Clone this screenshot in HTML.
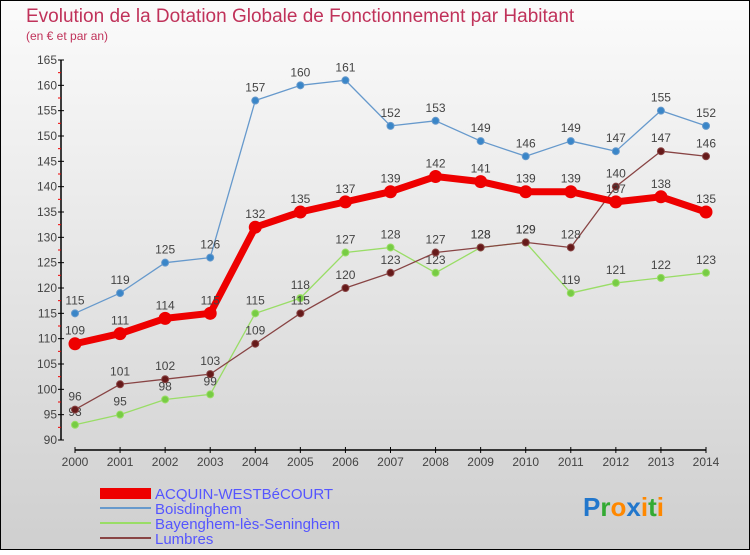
<!DOCTYPE html>
<html><head><meta charset="utf-8"><style>
body{margin:0}
svg text{font-family:"Liberation Sans",sans-serif}
</style></head><body>
<svg id="c" width="750" height="550" xmlns="http://www.w3.org/2000/svg">
<defs><linearGradient id="bg" x1="0" y1="0" x2="0" y2="1"><stop offset="0" stop-color="#fbfbfb"/><stop offset="1" stop-color="#cfcfcf"/></linearGradient></defs>
<rect x="0.5" y="0.5" width="749" height="549" fill="url(#bg)" stroke="#000"/>
<text x="26" y="22" font-size="19" fill="#c0325a">Evolution de la Dotation Globale de Fonctionnement par Habitant</text>
<text x="26" y="40" font-size="12" fill="#c0325a">(en € et par an)</text>
<g id="axes"></g><g id="series"></g>
<g font-size="15" fill="#5555ff">
<rect x="100" y="488" width="51" height="11" fill="#e00"/>
<text x="155" y="499" fill="#5555ff">ACQUIN-WESTBéCOURT</text>
<line x1="100" y1="508" x2="151" y2="508" stroke="#6699cc" stroke-width="2"/>
<text x="155" y="514" fill="#5555ff">Boisdinghem</text>
<line x1="100" y1="523" x2="151" y2="523" stroke="#99dd66" stroke-width="2"/>
<text x="155" y="529" fill="#5555ff">Bayenghem-lès-Seninghem</text>
<line x1="100" y1="538" x2="151" y2="538" stroke="#884444" stroke-width="2"/>
<text x="155" y="544" fill="#5555ff">Lumbres</text>
</g>
<text x="583" y="516" font-size="26" font-weight="bold"><tspan fill="#2277cc">P</tspan><tspan fill="#33aa33">r</tspan><tspan fill="#ff8800">o</tspan><tspan fill="#2277cc">x</tspan><tspan fill="#ff8800">i</tspan><tspan fill="#33aa33">t</tspan><tspan fill="#ff8800">i</tspan></text>
</svg>
<script>
const years=[2000,2001,2002,2003,2004,2005,2006,2007,2008,2009,2010,2011,2012,2013,2014];
const acquin=[109,111,114,115,132,135,137,139,142,141,139,139,137,138,135];
const boisdinghem=[115,119,125,126,157,160,161,152,153,149,146,149,147,155,152];
const bayenghem=[93,95,98,99,115,118,127,128,123,128,129,119,121,122,123];
const lumbres=[96,101,102,103,109,115,120,123,127,128,129,128,140,147,146];
const yTicks=[90,95,100,105,110,115,120,125,130,135,140,145,150,155,160,165];
const NS="http://www.w3.org/2000/svg";
const X=i=>75+i*(706-75)/(years.length-1);
const Y=v=>440-(v-90)*(380/75);
function mk(p,t,a){const e=document.createElementNS(NS,t);for(const k in a)e.setAttribute(k,a[k]);p.appendChild(e);return e;}
const ax=document.getElementById('axes');
let l=mk(ax,'line',{x1:61,y1:Y(165),x2:61,y2:440,stroke:'#000','stroke-width':1.5});

yTicks.forEach((v,k)=>{mk(ax,'line',{x1:58,y1:Y(v),x2:64,y2:Y(v),stroke:'#000'});
 if(k<yTicks.length-1) mk(ax,'line',{x1:58,y1:Y(v+2.5),x2:61,y2:Y(v+2.5),stroke:'#e00'});
 const t=mk(ax,'text',{x:57,y:Y(v)+4,'font-size':12,'text-anchor':'end',fill:'#444'});t.textContent=v;
 });
l=mk(ax,'line',{x1:75,y1:450,x2:706,y2:450,stroke:'#000','stroke-width':1.5});

years.forEach((y,i)=>{mk(ax,'line',{x1:X(i),y1:447,x2:X(i),y2:453,stroke:'#000'});
 const t=mk(ax,'text',{x:X(i),y:466,'font-size':12,'text-anchor':'middle',fill:'#444'});t.textContent=y;
 });
const sg=document.getElementById('series');
function draw(name,vals,col,dot,w,r){
 const g=mk(sg,'g',{});
 mk(g,'polyline',{points:vals.map((v,i)=>X(i)+','+Y(v)).join(' '),fill:'none',stroke:col,'stroke-width':w,'stroke-linejoin':'round'});
 vals.forEach((v,i)=>{const c=mk(g,'circle',{cx:X(i),cy:Y(v),r:r,fill:dot,stroke:col,'stroke-width':1});
  
  const t=mk(g,'text',{x:X(i),y:Y(v)-9,'font-size':12,'text-anchor':'middle',fill:'#444'});t.textContent=v;
  });
}
draw('boisdinghem',boisdinghem,'#6699cc','#3a86c8',1.3,3.5);
draw('bayenghem',bayenghem,'#99dd66','#77cc44',1.3,3.5);
draw('lumbres',lumbres,'#884444','#661a1a',1.3,3.5);
draw('acquin',acquin,'#ee0000','#ee0000',7,6);
</script>
</body></html>
